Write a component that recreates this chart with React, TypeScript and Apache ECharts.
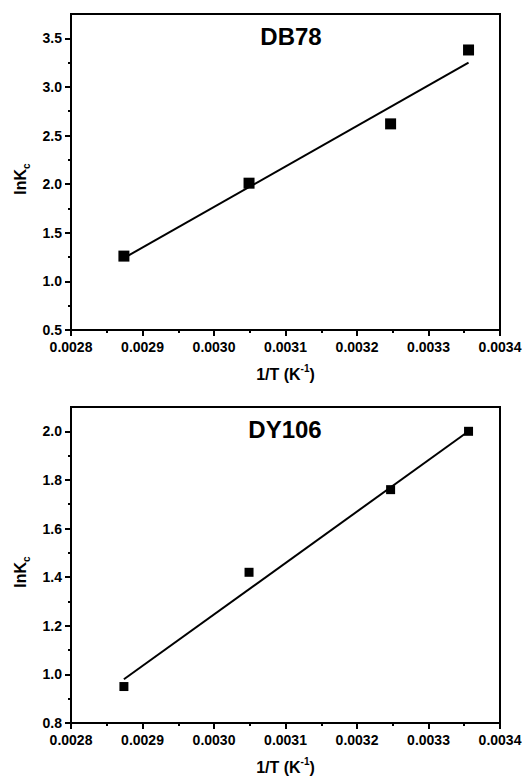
import { useEffect, useRef } from "react";
import * as echarts from "echarts";

// 1/T (K^-1) of the four measured temperatures
const invT = [0.002874, 0.003049, 0.003247, 0.003356];
// lnKc values
const lnKcDB78 = [1.26, 2.01, 2.62, 3.38];
const lnKcDY106 = [0.95, 1.42, 1.76, 2.0];
// fitted straight lines (end points)
const fitX = [0.002874, 0.003356];
const fitDB78 = [1.24, 3.25];
const fitDY106 = [0.98, 2.0];
// y-axis ticks
const yTicksDB78 = [0.5, 1.0, 1.5, 2.0, 2.5, 3.0, 3.5];
const yMinorDB78 = [0.75, 1.25, 1.75, 2.25, 2.75, 3.25];
const yTicksDY106 = [0.8, 1.0, 1.2, 1.4, 1.6, 1.8, 2.0];
const yMinorDY106 = [0.9, 1.1, 1.3, 1.5, 1.7, 1.9];
const titles = ["DB78", "DY106"];

const FONT = "'Liberation Sans', Arial, sans-serif";

export default function App() {
  const ref = useRef<HTMLDivElement>(null);
  useEffect(() => {
    document.body.style.margin = "0";
    const chart = echarts.init(ref.current!, null, { renderer: "svg" });

    const grids = [
      { left: 71, top: 14, width: 429, height: 316 },
      { left: 71, top: 407, width: 429, height: 316 },
    ];

    const xAxisFor = (gi: number) => ({
      type: "value",
      gridIndex: gi,
      min: 0.0028,
      max: 0.0034,
      interval: 0.0001,
      name: "{b|1/T (K}{sup|-1}{b|)}",
      nameLocation: "middle",
      nameGap: 33,
      nameTextStyle: {
        rich: {
          b: { fontFamily: FONT, fontWeight: "bold", fontSize: 16, color: "#000", lineHeight: 22 },
          sup: { fontFamily: FONT, fontWeight: "bold", fontSize: 10, color: "#000", lineHeight: 11, verticalAlign: "top" },
        },
      },
      axisLine: { show: true, onZero: false, lineStyle: { color: "#000", width: 2 } },
      axisTick: { show: true, inside: false, length: 6, lineStyle: { color: "#000", width: 2 } },
      minorTick: { show: true, splitNumber: 2, length: 3, lineStyle: { color: "#000", width: 2 } },
      splitLine: { show: false },
      minorSplitLine: { show: false },
      axisLabel: {
        margin: 10,
        fontFamily: FONT,
        fontWeight: "bold",
        fontSize: 14,
        color: "#000",
        showMinLabel: true,
        showMaxLabel: true,
        formatter: (v: number) => v.toFixed(4),
      },
    });

    const yMainFor = (gi: number, min: number, max: number, interval: number, ticks: number[], digits: number) => ({
      type: "value",
      gridIndex: gi,
      position: "left",
      min,
      max,
      interval,
      name: "{b|lnK}{sub|c}",
      nameLocation: "middle",
      nameRotate: 90,
      nameGap: 39,
      nameTextStyle: {
        rich: {
          b: { fontFamily: FONT, fontWeight: "bold", fontSize: 16, color: "#000", lineHeight: 22 },
          sub: { fontFamily: FONT, fontWeight: "bold", fontSize: 10, color: "#000", lineHeight: 8, verticalAlign: "bottom", padding: [0, 14, 0, 0] },
        },
      },
      axisLine: { show: true, onZero: false, lineStyle: { color: "#000", width: 2 } },
      axisTick: { show: true, inside: false, length: 6, customValues: ticks, lineStyle: { color: "#000", width: 2 } },
      splitLine: { show: false },
      axisLabel: {
        margin: 9,
        fontFamily: FONT,
        fontWeight: "bold",
        fontSize: 14,
        color: "#000",
        customValues: ticks,
        formatter: (v: number) => v.toFixed(digits),
      },
    });

    const yMinorFor = (gi: number, min: number, max: number, minor: number[]) => ({
      type: "value",
      gridIndex: gi,
      position: "left",
      min,
      max,
      axisLine: { show: false },
      axisLabel: { show: false },
      splitLine: { show: false },
      axisTick: { show: true, inside: false, length: 3, customValues: minor, lineStyle: { color: "#000", width: 2 } },
    });

    const pts = (xs: number[], ys: number[]) => xs.map((x, i) => [x, ys[i]]);

    chart.setOption({
      animation: false,
      backgroundColor: "#fff",
      title: [
        { text: titles[0], left: 291, top: 24, textAlign: "center", padding: 0,
          textStyle: { fontFamily: FONT, fontWeight: "bold", fontSize: 24, color: "#000" } },
        { text: titles[1], left: 285, top: 417, textAlign: "center", padding: 0,
          textStyle: { fontFamily: FONT, fontWeight: "bold", fontSize: 24, color: "#000" } },
      ],
      grid: grids.map((g) => ({
        ...g, show: true, borderColor: "#000", borderWidth: 2, backgroundColor: "transparent",
        containLabel: false, outerBoundsMode: "none",
      })),
      xAxis: [xAxisFor(0), xAxisFor(1)],
      yAxis: [
        yMainFor(0, 0.5, 3.75, 0.5, yTicksDB78, 1),
        yMinorFor(0, 0.5, 3.75, yMinorDB78),
        yMainFor(1, 0.8, 2.1, 0.2, yTicksDY106, 1),
        yMinorFor(1, 0.8, 2.1, yMinorDY106),
      ],
      series: [
        { type: "line", xAxisIndex: 0, yAxisIndex: 0, data: pts(fitX, fitDB78), showSymbol: false, symbol: "none",
          lineStyle: { color: "#000", width: 2 }, z: 2 },
        { type: "scatter", xAxisIndex: 0, yAxisIndex: 0, data: pts(invT, lnKcDB78), symbol: "rect", symbolSize: 11,
          itemStyle: { color: "#000", opacity: 1 }, z: 3 },
        { type: "line", xAxisIndex: 1, yAxisIndex: 2, data: pts(fitX, fitDY106), showSymbol: false, symbol: "none",
          lineStyle: { color: "#000", width: 2 }, z: 2 },
        { type: "scatter", xAxisIndex: 1, yAxisIndex: 2, data: pts(invT, lnKcDY106), symbol: "rect", symbolSize: 9,
          itemStyle: { color: "#000", opacity: 1 }, z: 3 },
      ],
    });

    return () => chart.dispose();
  }, []);

  return <div ref={ref} style={{ width: 529, height: 778 }} />;
}
